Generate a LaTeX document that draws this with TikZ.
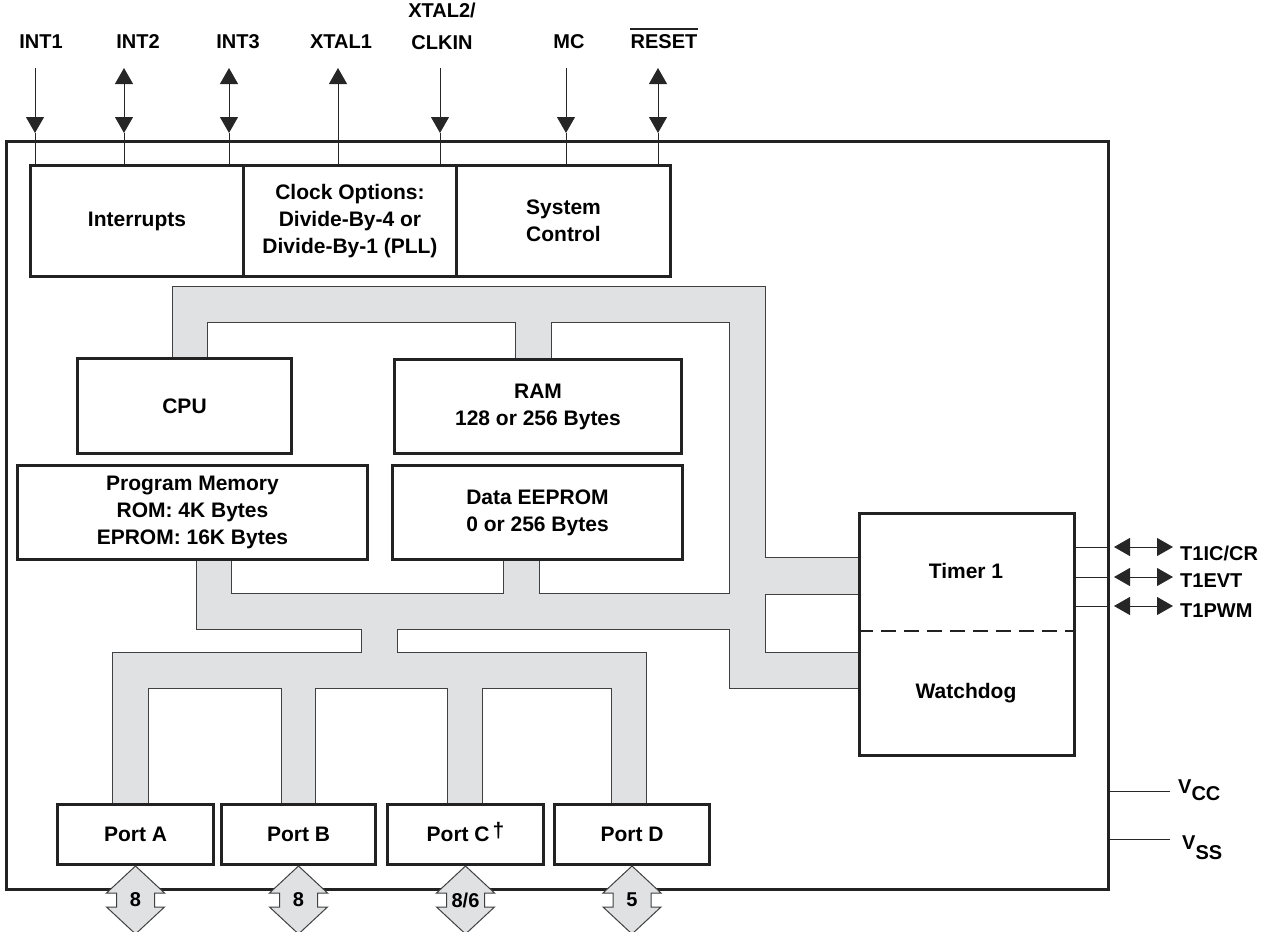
\documentclass[tikz,border=0pt]{standalone}
\usepackage{fontspec}
\setmainfont{Liberation Sans}
\usetikzlibrary{arrows.meta}
\definecolor{busgray}{RGB}{224,225,227}
\definecolor{ink}{RGB}{34,34,34}
\newcommand\blkfont{\bfseries\fontsize{21}{27}\selectfont}
\newcommand\pinfont{\bfseries\fontsize{20}{32}\selectfont}
\tikzset{
  blk/.style={draw=ink, line width=3pt, fill=white, align=center, font=\blkfont, inner sep=0pt, anchor=north west},
  busline/.style={draw=black!75, line width=1pt},
  pin/.style={draw=black!85, line width=1pt},
  lbl/.style={font=\pinfont, inner sep=0pt, align=center},
  txt/.style={font=\blkfont, inner sep=0pt, align=center},
  fatarrow/.style={fill=busgray, draw=black!75, line width=1pt, line join=miter},
  numlbl/.style={font=\bfseries\fontsize{20}{24}\selectfont, inner sep=0pt},
  >={Triangle[width=18pt,length=16pt]},
  pics/portarrow/.style={code={
    \path[fatarrow] (0,0) -- (29,27) -- (19,27) -- (19,41) -- (29,41) -- (0,68)
      -- (-29,41) -- (-19,41) -- (-19,27) -- (-29,27) -- cycle;
    \node[numlbl] (-n) at (0,34) {#1};
  }}
}
\begin{document}
\begin{tikzpicture}[x=1pt,y=-1pt]
\useasboundingbox (0,0) rectangle (1275,932);

% chip outline
\node[draw=ink, line width=3pt, minimum width=1102pt, minimum height=748pt, anchor=north west, inner sep=0pt] (chip) at (5,140) {};

% ---- bus fill ----
\fill[busgray] (172,286) rectangle (765,322);
\fill[busgray] (172,286) rectangle (207,357);
\fill[busgray] (515,286) rectangle (551,358);
\fill[busgray] (729,286) rectangle (765,688);
\fill[busgray] (729,557) rectangle (858,594);
\fill[busgray] (729,652) rectangle (858,688);
\fill[busgray] (196,593) rectangle (729,629);
\fill[busgray] (196,558) rectangle (231,629);
\fill[busgray] (503.5,558) rectangle (539,593);
\fill[busgray] (361,628) rectangle (397,653);
\fill[busgray] (112,652) rectangle (646,688);
\fill[busgray] (112,652) rectangle (148,803);
\fill[busgray] (281,652) rectangle (315,803);
\fill[busgray] (447,652) rectangle (482,803);
\fill[busgray] (611,652) rectangle (646,803);

% ---- bus outlines ----
\draw[busline] (172,357) -- (172,286) -- (765,286) -- (765,557) -- (858,557);
\draw[busline] (207,357) -- (207,322) -- (515,322) -- (515,358);
\draw[busline] (551,358) -- (551,322) -- (729,322) -- (729,593) -- (539,593) -- (539,558);
\draw[busline] (858,594) -- (765,594) -- (765,652) -- (858,652);
\draw[busline] (858,688) -- (729,688) -- (729,629) -- (397,629) -- (397,652) -- (646,652) -- (646,803);
\draw[busline] (503.5,558) -- (503.5,593) -- (231,593) -- (231,558);
\draw[busline] (196,558) -- (196,629) -- (361,629) -- (361,652) -- (112,652) -- (112,803);
\draw[busline] (148,803) -- (148,688) -- (281,688) -- (281,803);
\draw[busline] (315,803) -- (315,688) -- (447,688) -- (447,803);
\draw[busline] (482,803) -- (482,688) -- (611,688) -- (611,803);

% ---- blocks ----
\node[blk, minimum width=213pt, minimum height=111pt] (intr) at (29,164) {Interrupts};
\node[blk, minimum width=213pt, minimum height=111pt] (clk) at (242,164) {Clock Options:\\Divide-By-4 or\\Divide-By-1 (PLL)};
\node[blk, minimum width=214pt, minimum height=111pt] (sys) at (455,164) {System\\Control};
\node[blk, minimum width=214pt, minimum height=95pt] (cpu) at (76,357) {CPU};
\node[blk, minimum width=287pt, minimum height=94pt] (ram) at (393,358) {RAM\\128 or 256 Bytes};
\node[blk, minimum width=350pt, minimum height=94pt] (pm) at (16,464) {Program Memory\\ROM: 4K Bytes\\EPROM: 16K Bytes};
\node[blk, minimum width=290pt, minimum height=94pt] (ee) at (391,464) {Data EEPROM\\0 or 256 Bytes};
\node[blk, minimum width=215pt, minimum height=242pt] (tmr) at (858,512) {};
\node[txt] (tmrtxt) at (966,571) {Timer 1};
\node[txt] (wdtxt) at (966,693) {Watchdog};
\coordinate (dy) at (0,631);
\draw[ink, line width=2.5pt, dash pattern=on 15pt off 8pt] (tmr.west |- dy) -- (tmr.east |- dy);

\node[blk, minimum width=156pt, minimum height=60pt] (pa) at (56,803) {Port A};
\node[blk, minimum width=154pt, minimum height=60pt] (pb) at (220,803) {Port B};
\node[blk, minimum width=156pt, minimum height=60pt] (pc) at (386,803) {Port C\hspace{3pt}\smash{\raisebox{4pt}{†}}};
\node[blk, minimum width=155pt, minimum height=60pt] (pd) at (553,803) {Port D};

% ---- port arrows ----
\pic (aa) at (pa.south) {portarrow=8};
\pic (ab) at (pb.south) {portarrow=8};
\pic (ac) at (pc.south) {portarrow=8/6};
\pic (ad) at (pd.south) {portarrow=5};

% ---- top pins ----
\node[lbl] (lint1) at (41,42) {INT1};
\node[lbl] (lint2) at (138,42) {INT2};
\node[lbl] (lint3) at (238,42) {INT3};
\node[lbl] (lx1) at (341,42) {XTAL1};
\node[lbl, anchor=north] (lx2) at (442,3) {XTAL2/\\CLKIN};
\node[lbl] (lmc) at (569,42) {MC};
\node[lbl] (lrst) at (664,42) {RESET};
\draw[ink, line width=2pt] ([yshift=6pt]lrst.north west) -- ([yshift=6pt]lrst.north east);

\coordinate (p1t) at (35,68);  \coordinate (p1h) at (35,133);
\coordinate (p2t) at (124,68); \coordinate (p2h) at (124,133);
\coordinate (p3t) at (229,68); \coordinate (p3h) at (229,133);
\coordinate (p4t) at (338,68);
\coordinate (p5t) at (440,68); \coordinate (p5h) at (440,133);
\coordinate (p6t) at (566,68); \coordinate (p6h) at (566,133);
\coordinate (p7t) at (658,68); \coordinate (p7h) at (658,133);

\draw[pin,->] (p1t) -- (p1h); \draw[pin] (p1h) -- (p1h |- intr.north);
\draw[pin,<->] (p2t) -- (p2h); \draw[pin] (p2h) -- (p2h |- intr.north);
\draw[pin,<->] (p3t) -- (p3h); \draw[pin] (p3h) -- (p3h |- intr.north);
\draw[pin,<-] (p4t) -- (p4t |- clk.north);
\draw[pin,->] (p5t) -- (p5h); \draw[pin] (p5h) -- (p5h |- clk.north);
\draw[pin,->] (p6t) -- (p6h); \draw[pin] (p6h) -- (p6h |- sys.north);
\draw[pin,<->] (p7t) -- (p7h); \draw[pin] (p7h) -- (p7h |- sys.north);

% ---- timer pins ----
\coordinate (ta1) at (1114,547); \coordinate (tb1) at (1173,547);
\coordinate (ta2) at (1114,577); \coordinate (tb2) at (1173,577);
\coordinate (ta3) at (1114,606); \coordinate (tb3) at (1173,606);
\draw[pin] (tmr.east |- ta1) -- (chip.east |- ta1); \draw[pin,<->] (ta1) -- (tb1);
\draw[pin] (tmr.east |- ta2) -- (chip.east |- ta2); \draw[pin,<->] (ta2) -- (tb2);
\draw[pin] (tmr.east |- ta3) -- (chip.east |- ta3); \draw[pin,<->] (ta3) -- (tb3);
\node[lbl, anchor=west] (lt1) at (1180,553) {T1IC/CR};
\node[lbl, anchor=west] (lt2) at (1180,581) {T1EVT};
\node[lbl, anchor=west] (lt3) at (1180,611) {T1PWM};

% ---- supply ----
\coordinate (vcc) at (1170,791);
\coordinate (vss) at (1170,839);
\draw[pin] (chip.east |- vcc) -- (vcc);
\draw[pin] (chip.east |- vss) -- (vss);
\node[lbl, anchor=base west] (lvcc) at (1178,793) {V\raisebox{-7pt}{CC}};
\node[lbl, anchor=base west] (lvss) at (1182,849) {V\raisebox{-10pt}{SS}};
\end{tikzpicture}
\end{document}
